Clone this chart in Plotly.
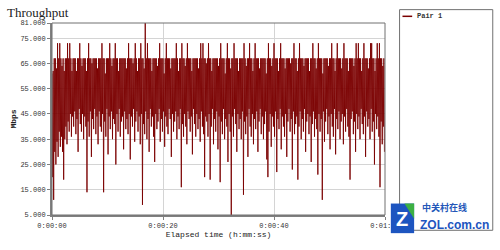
import plotly.graph_objects as go

# ---- data (Mbps): per sample pair, a peak and a trough ----
sample_interval_s = 0.1

peaks = [
    61, 62, 67, 67, 63, 73, 67, 73, 67, 64, 67, 62, 67, 67, 73, 67, 73, 67, 62, 67,
    67, 67, 62, 67, 67, 73, 67, 64, 67, 67, 67, 62, 67, 73, 67, 67, 65, 67, 67, 67,
    67, 63, 67, 67, 67, 73, 67, 67, 61, 67, 67, 67, 73, 67, 64, 67, 67, 73, 67, 67,
    62, 67, 67, 67, 67, 67, 67, 63, 67, 73, 67, 67, 67, 65, 67, 73, 67, 62, 67, 67,
    73, 67, 67, 63, 81, 67, 73, 67, 67, 67, 62, 67, 67, 67, 67, 64, 67, 73, 67, 67,
    67, 61, 67, 73, 67, 67, 67, 63, 67, 67, 67, 67, 73, 67, 62, 67, 67, 73, 67, 67,
    64, 67, 73, 67, 67, 67, 62, 67, 67, 67, 67, 67, 63, 67, 73, 67, 73, 67, 67, 65,
    67, 73, 67, 67, 62, 67, 67, 67, 67, 67, 64, 67, 73, 67, 67, 67, 61, 67, 73, 67,
    67, 63, 67, 67, 73, 67, 67, 67, 62, 67, 67, 67, 67, 73, 67, 64, 67, 67, 73, 67,
    67, 62, 67, 73, 67, 67, 67, 63, 67, 67, 67, 67, 67, 61, 67, 73, 67, 67, 64, 67,
    73, 67, 67, 67, 62, 67, 73, 67, 67, 67, 63, 67, 67, 67, 67, 65, 67, 67, 73, 67,
    67, 62, 67, 73, 67, 67, 67, 64, 67, 67, 67, 67, 62, 67, 67, 73, 67, 67, 63, 67,
    73, 67, 67, 67, 61, 67, 67, 67, 67, 64, 67, 67, 73, 67, 67, 62, 67, 73, 67, 67,
    67, 63, 67, 73, 67, 67, 67, 62, 67, 67, 67, 67, 64, 67, 73, 67, 73, 67, 67, 62,
    67, 73, 67, 67, 67, 63, 67, 73, 73, 67, 67, 62, 67, 73, 67, 73, 67, 67, 64, 67,
]

troughs = [
    20, 11, 30, 25, 34, 28, 38, 32, 36, 30, 19, 35, 40, 33, 42, 38, 45, 36, 44, 40,
    46, 37, 43, 30, 47, 41, 38, 45, 35, 44, 40, 14, 42, 36, 46, 28, 43, 39, 47, 37,
    44, 33, 46, 40, 38, 45, 14, 42, 36, 47, 29, 44, 39, 46, 35, 43, 41, 25, 45, 38,
    47, 36, 42, 44, 31, 46, 39, 43, 37, 45, 27, 44, 40, 47, 34, 42, 46, 38, 44, 33,
    45, 9, 41, 37, 46, 35, 43, 30, 47, 40, 44, 36, 26, 45, 39, 42, 47, 34, 43, 38,
    46, 32, 44, 40, 37, 47, 43, 28, 45, 38, 42, 46, 35, 44, 39, 47, 16, 41, 36, 45,
    40, 33, 46, 43, 38, 44, 29, 47, 41, 36, 45, 39, 43, 34, 46, 40, 37, 20, 44, 42,
    36, 45, 19, 40, 47, 33, 43, 38, 46, 31, 44, 18, 42, 37, 47, 35, 43, 40, 26, 45,
    38, 5, 44, 36, 47, 41, 30, 45, 39, 43, 35, 46, 13, 42, 37, 44, 28, 47, 40, 36,
    45, 33, 43, 39, 46, 30, 42, 47, 37, 44, 35, 41, 46, 27, 20, 38, 45, 32, 44, 40,
    36, 46, 22, 43, 39, 47, 31, 44, 40, 36, 45, 28, 42, 47, 38, 43, 23, 46, 37, 41,
    44, 19, 40, 46, 35, 43, 38, 47, 30, 42, 45, 37, 44, 26, 41, 46, 36, 43, 39, 21,
    45, 38, 43, 11, 46, 34, 42, 47, 37, 44, 31, 45, 40, 36, 47, 29, 43, 39, 46, 35,
    42, 45, 33, 44, 38, 47, 40, 36, 19, 43, 46, 37, 42, 30, 45, 39, 44, 35, 47, 41,
    37, 44, 28, 46, 40, 43, 35, 47, 38, 42, 25, 45, 39, 44, 36, 16, 42, 33, 40, 30,
]

y_ticks = [5, 15, 25, 35, 45, 55, 65, 75, 81]
x_ticks = [0, 20, 40, 60]
x_tick_labels = ["0:00:00", "0:00:20", "0:00:40", "0:01:00"]
series_name = "Pair 1"

# interleave peaks and troughs into one time series
values = []
for p, t in zip(peaks, troughs):
    values.append(p)
    values.append(t)
times = [i * sample_interval_s for i in range(len(values))]

LINE = "#7a0000"
GRID = "#d4d4d4"
AX = "#808080"
MONO = "Liberation Mono"

fig = go.Figure()
fig.add_trace(go.Scatter(
    x=times, y=values, mode="lines", name=series_name,
    line=dict(color=LINE, width=0.9), showlegend=False, hoverinfo="skip",
))


def px(x):
    return (x - 42) / 343


def py(y):
    return (224 - y) / 201


fig.update_layout(
    width=500, height=250,
    margin=dict(l=42, r=115, t=23, b=26),
    paper_bgcolor="white", plot_bgcolor="white",
    title=dict(text="Throughput", x=0.014, xanchor="left", y=0.95, yanchor="middle",
               font=dict(family="Liberation Serif", size=13, color="#222")),
    xaxis=dict(
        range=[0, 60], tickvals=x_ticks, ticktext=x_tick_labels,
        showgrid=True, gridcolor=GRID, gridwidth=1,
        showline=True, linecolor=AX, linewidth=2,
        ticks="outside", ticklen=3, tickcolor=AX,
        tickfont=dict(family=MONO, size=7, color="#333"),
        title=dict(text="Elapsed time (h:mm:ss)", standoff=2,
                   font=dict(family=MONO, size=8, color="#222")),
        zeroline=False,
    ),
    yaxis=dict(
        range=[5, 81], tickvals=y_ticks, ticktext=[f"{v:.3f}" for v in y_ticks],
        showgrid=True, gridcolor=GRID, gridwidth=1,
        showline=True, linecolor=AX, linewidth=2,
        ticks="outside", ticklen=3, tickcolor=AX,
        tickfont=dict(family=MONO, size=7, color="#333"),
        title=dict(text="<b>Mbps</b>", standoff=3,
                   font=dict(family=MONO, size=8, color="#222")),
        zeroline=False,
    ),
    shapes=[
        dict(type="rect", xref="paper", yref="paper", x0=0, x1=1, y0=0, y1=1,
             line=dict(color="#707070", width=1), layer="above"),
        dict(type="rect", xref="paper", yref="paper",
             x0=px(400), x1=px(496), y0=py(240), y1=py(9),
             line=dict(color="#707070", width=1)),
        dict(type="line", xref="paper", yref="paper",
             x0=px(403), x1=px(413), y0=py(16), y1=py(16),
             line=dict(color=LINE, width=1.5)),
        dict(type="rect", xref="paper", yref="paper",
             x0=px(391), x1=px(415), y0=py(243), y1=py(212),
             fillcolor="#1d55c0", line=dict(width=0), layer="above"),
        dict(type="path", xref="paper", yref="paper",
             path=(f"M {px(405)} {py(212)} L {px(415)} {py(212)} "
                   f"L {px(415)} {py(228)} Z"),
             fillcolor="#3cb043", line=dict(width=0), layer="above"),
    ],
    annotations=[
        dict(text="<b>Pair 1</b>", xref="paper", yref="paper",
             x=px(416), y=py(16), xanchor="left", yanchor="middle",
             showarrow=False, font=dict(family=MONO, size=7, color="#333")),
        dict(text="<b>Z</b>", xref="paper", yref="paper",
             x=px(403), y=py(228), xanchor="center", yanchor="middle",
             showarrow=False, font=dict(family="Liberation Sans", size=20, color="white")),
        dict(text="<b>中关村在线</b>", xref="paper", yref="paper",
             x=px(421), y=py(216), xanchor="left", yanchor="middle",
             showarrow=False, font=dict(family="Noto Sans CJK SC", size=9, color="#2457b8")),
        dict(text="<b>ZOL.com.cn</b>", xref="paper", yref="paper",
             x=px(419), y=py(234), xanchor="left", yanchor="middle",
             showarrow=False, font=dict(family="Liberation Sans", size=12, color="#1d55c0")),
    ],
)

fig.write_html("out.html")
